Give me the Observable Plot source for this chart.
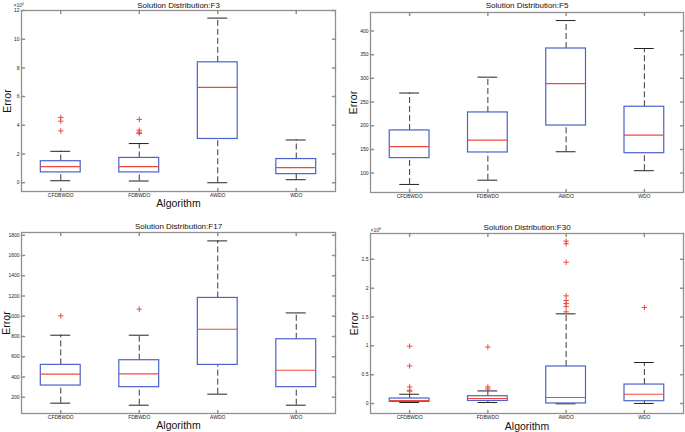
<!DOCTYPE html>
<html>
<head>
<meta charset="utf-8">
<script src="https://cdn.jsdelivr.net/npm/d3@7"></script>
<script src="https://cdn.jsdelivr.net/npm/@observablehq/plot@0.6"></script>
<style>
  html, body { margin: 0; padding: 0; background: white; }
  #chart { position: relative; width: 685px; height: 432px; background: white; overflow: hidden; }
  #chart svg { position: absolute; overflow: visible; }
</style>
</head>
<body>
<div id="chart"></div>
<script>
// Categories
const algorithms = ["CFDBWDO", "FDBWDO", "AWDO", "WDO"];

// Box statistics per algorithm: [lower whisker, Q1, median, Q3, upper whisker]
const f3Box = [
  [1400, 7200, 11200, 15000, 21900],
  [1200, 7200, 11200, 17300, 27300],
  [0, 30500, 66400, 83900, 114700],
  [2100, 6000, 10500, 16500, 29800]
];
const f3Outliers = [[45500, 42900, 36100], [44100, 36600, 35200, 34300], [], []];

const f5Box = [
  [76, 131.6, 156, 190, 269],
  [85, 143.5, 169.6, 228, 302.5],
  [145, 200.4, 289, 363, 422],
  [105, 142, 180, 240, 363]
];
const f5Outliers = [[], [], [], []];

const f17Box = [
  [141, 315, 427, 519, 812],
  [121, 299, 430, 565, 812],
  [230, 519, 871, 1180, 1743],
  [121, 299, 466, 772, 1032]
];
const f17Outliers = [[1003], [1069], [], []];

const f30Box = [
  [1.7e6, 2.8e6, 5.2e6, 8.7e6, 16.1e6],
  [1.7e6, 4.5e6, 8.7e6, 12.7e6, 21.8e6],
  [-0.5e6, 0.1e6, 10.4e6, 64.2e6, 155.5e6],
  [0.1e6, 4.0e6, 16.1e6, 32.9e6, 71.1e6]
];
const f30Outliers = [
  [99.4e6, 65.2e6, 28.8e6, 23.1e6, 21.3e6],
  [98.0e6, 28.8e6, 25.3e6],
  [281.5e6, 277.0e6, 245.0e6, 186.7e6, 178.6e6, 173.4e6, 168.0e6, 159.0e6],
  [166.5e6]
];

// Axis ticks
const f3Ticks = [0, 20000, 40000, 60000, 80000, 100000, 120000];
const f5Ticks = [100, 150, 200, 250, 300, 350, 400];
const f17Ticks = [200, 400, 600, 800, 1000, 1200, 1400, 1600, 1800];
const f30Ticks = [0, 0.5e8, 1e8, 1.5e8, 2e8, 2.5e8];

const BLUE = "#4a62cc";
const RED = "#ee4a3c";
const FRAME = "#909090";
const FONT = "'Liberation Sans', Arial, Helvetica, sans-serif";

const tickShape = { draw(context, l) { context.moveTo(0, 0); context.lineTo(0, -l); } };

function panel(o) {
  const boxes = algorithms.map((a, i) => ({
    alg: a, low: o.box[i][0], q1: o.box[i][1], med: o.box[i][2], q3: o.box[i][3], high: o.box[i][4]
  }));
  const outs = algorithms.flatMap((a, i) => o.outliers[i].map(v => ({ alg: a, v })));
  const marks = [
    Plot.ruleX(boxes, { x: "alg", y1: "q3", y2: "high", stroke: "#3a3a3a", strokeWidth: 1, strokeDasharray: "6,3" }),
    Plot.ruleX(boxes, { x: "alg", y1: "low", y2: "q1", stroke: "#3a3a3a", strokeWidth: 1, strokeDasharray: "6,3" }),
    Plot.tickY(boxes, { x: "alg", y: "high", insetLeft: 10, insetRight: 10, stroke: "#222", strokeWidth: 1 }),
    Plot.tickY(boxes, { x: "alg", y: "low", insetLeft: 10, insetRight: 10, stroke: "#222", strokeWidth: 1 }),
    Plot.barY(boxes, { x: "alg", y1: "q1", y2: "q3", inset: 0, fill: "none", stroke: BLUE, strokeWidth: 1.2 }),
    Plot.tickY(boxes, { x: "alg", y: "med", stroke: RED, strokeWidth: 1.2 }),
    Plot.dot(outs, { x: "alg", y: "v", symbol: "plus", r: 1.9, stroke: RED, strokeWidth: 1 }),
    Plot.frame({ stroke: FRAME, strokeWidth: 1.3 }),
    Plot.axisX({ anchor: "bottom", tickSize: 0, tickPadding: 1.5, fontSize: 5, label: null, fill: "#222" }),
    Plot.axisY(o.ticks, { anchor: "left", tickSize: 0, tickPadding: 2, fontSize: 5, label: null, fill: "#222",
      tickFormat: d => d3.format("~g")(+(d / o.scale).toFixed(6)) }),
    Plot.vector(o.ticks, { y: d => d, frameAnchor: "left", rotate: 90, length: 3, anchor: "start", shape: tickShape, stroke: FRAME }),
    Plot.vector(o.ticks, { y: d => d, frameAnchor: "right", rotate: -90, length: 3, anchor: "start", shape: tickShape, stroke: FRAME }),
    Plot.vector(algorithms, { x: d => d, frameAnchor: "top", rotate: 180, length: 3, anchor: "start", shape: tickShape, stroke: FRAME }),
    Plot.vector(algorithms, { x: d => d, frameAnchor: "bottom", rotate: 0, length: 3, anchor: "start", shape: tickShape, stroke: FRAME }),
    Plot.text([o.title], { frameAnchor: "top", dy: o.titleDy, lineAnchor: "middle", fontSize: 8, fill: "#111" }),
    Plot.text(["Error"], { frameAnchor: "left", dx: o.errorDx, rotate: -90, lineAnchor: "middle", textAnchor: "middle", fontSize: 10.5, fill: "#111" })
  ];
  if (o.xLabelDy != null) {
    marks.push(Plot.text(["Algorithm"], { frameAnchor: "bottom", dy: o.xLabelDy, lineAnchor: "middle", fontSize: 10.5, fill: "#111" }));
  }
  if (o.exp) {
    marks.push(Plot.text(["×10"], { frameAnchor: "top-left", dx: o.expDx, dy: o.expDy, textAnchor: "start", lineAnchor: "middle", fontSize: 5, fill: "#333" }));
    marks.push(Plot.text([o.exp], { frameAnchor: "top-left", dx: o.expDx + 8.2, dy: o.expDy - 1.6, textAnchor: "start", lineAnchor: "middle", fontSize: 3.6, fill: "#333" }));
  }
  const svg = Plot.plot({
    width: o.width, height: o.height,
    marginLeft: o.mL, marginRight: o.mR, marginTop: o.mT, marginBottom: o.mB,
    style: { fontFamily: FONT, background: "transparent", overflow: "visible" },
    x: { type: "band", domain: algorithms, paddingInner: 0.492, paddingOuter: 0.246, round: false, label: null },
    y: { domain: o.domain, label: null },
    marks
  });
  svg.style.left = o.left + "px";
  svg.style.top = o.top + "px";
  document.getElementById("chart").appendChild(svg);
}

panel({ box: f3Box, outliers: f3Outliers, ticks: f3Ticks, scale: 1e4, domain: [-6100, 120000],
  title: "Solution Distribution:F3", exp: "4", expDx: -8, expDy: -5,
  left: 0, top: 0, width: 342, height: 215, mL: 21, mR: 7, mT: 10, mB: 24,
  titleDy: -5.3, errorDx: -13.5, xLabelDy: 12 });

panel({ box: f5Box, outliers: f5Outliers, ticks: f5Ticks, scale: 1, domain: [59, 439],
  title: "Solution Distribution:F5",
  left: 342, top: 0, width: 343, height: 215, mL: 28, mR: 2, mT: 12, mB: 23,
  titleDy: -7, errorDx: -17, xLabelDy: null });

panel({ box: f17Box, outliers: f17Outliers, ticks: f17Ticks, scale: 1, domain: [39, 1826],
  title: "Solution Distribution:F17",
  left: 0, top: 215, width: 342, height: 217, mL: 21, mR: 7, mT: 17, mB: 19,
  titleDy: -5.7, errorDx: -15, xLabelDy: 12.3 });

panel({ box: f30Box, outliers: f30Outliers, ticks: f30Ticks, scale: 1e8, domain: [-0.173e8, 2.948e8],
  title: "Solution Distribution:F30", exp: "8", expDx: 0, expDy: -3.5,
  left: 342, top: 215, width: 343, height: 217, mL: 28, mR: 2, mT: 18, mB: 19,
  titleDy: -6, errorDx: -16, xLabelDy: 12.7 });
</script>
</body>
</html>
